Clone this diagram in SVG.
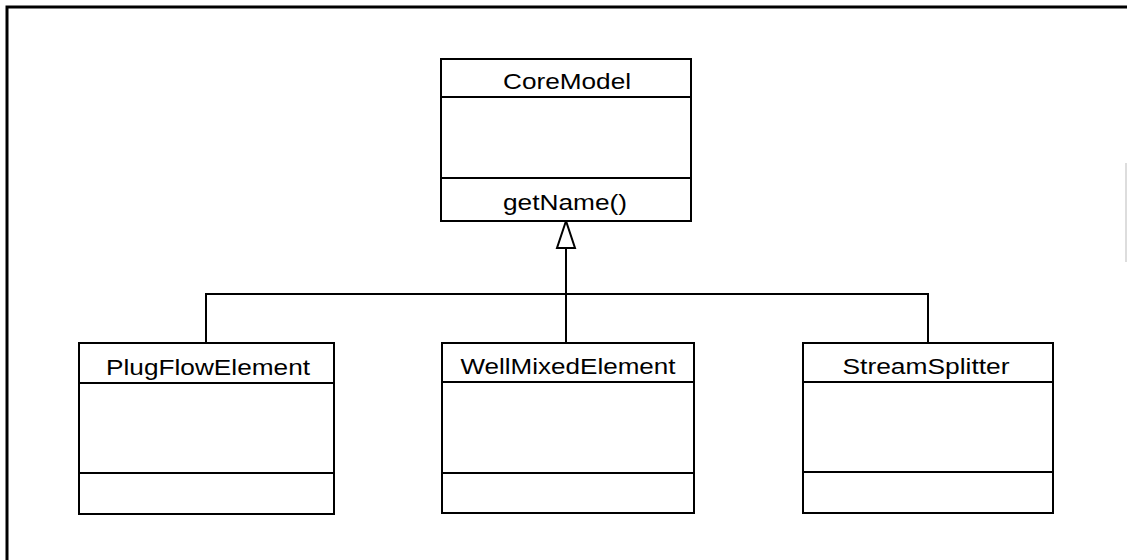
<svg xmlns="http://www.w3.org/2000/svg" width="1127" height="560" viewBox="0 0 1127 560">
<style>
.box{fill:#fff;stroke:#000;stroke-width:2}
.sep{stroke:#000;stroke-width:2}
.lbl{font-family:"Liberation Sans",Arial,sans-serif;font-size:22px;fill:#000;text-anchor:middle}
.con{fill:none;stroke:#000;stroke-width:2}
</style>
<rect width="1127" height="560" fill="#fff"/>
<path id="frame" d="M7,560 V7 H1127" fill="none" stroke="#000" stroke-width="3"/>
<line x1="1126" y1="163" x2="1126" y2="262" stroke="#bbb" stroke-width="1"/>
<g id="connectors">
<polyline class="con" points="206,343 206,294 928,294 928,343"/>
<line class="con" x1="566" y1="343" x2="566" y2="248"/>
<polygon points="566,221 557,248 575,248" fill="#fff" stroke="#000" stroke-width="2"/>
</g>
<g id="CoreModel">
<rect class="box" x="441" y="59" width="250" height="162"/>
<line class="sep" x1="441" y1="97" x2="691" y2="97"/>
<line class="sep" x1="441" y1="178" x2="691" y2="178"/>
<text class="lbl" x="567" y="89" textLength="128" lengthAdjust="spacingAndGlyphs">CoreModel</text>
<text class="lbl" x="565" y="210" textLength="124" lengthAdjust="spacingAndGlyphs">getName()</text>
</g>
<g id="PlugFlowElement">
<rect class="box" x="79" y="343" width="255" height="171"/>
<line class="sep" x1="79" y1="383" x2="334" y2="383"/>
<line class="sep" x1="79" y1="473" x2="334" y2="473"/>
<text class="lbl" x="208" y="375" textLength="204" lengthAdjust="spacingAndGlyphs">PlugFlowElement</text>
</g>
<g id="WellMixedElement">
<rect class="box" x="442" y="343" width="252" height="170"/>
<line class="sep" x1="442" y1="382" x2="694" y2="382"/>
<line class="sep" x1="442" y1="473" x2="694" y2="473"/>
<text class="lbl" x="568" y="374" textLength="215" lengthAdjust="spacingAndGlyphs">WellMixedElement</text>
</g>
<g id="StreamSplitter">
<rect class="box" x="803" y="343" width="250" height="170"/>
<line class="sep" x1="803" y1="382" x2="1053" y2="382"/>
<line class="sep" x1="803" y1="472" x2="1053" y2="472"/>
<text class="lbl" x="926" y="374" textLength="167" lengthAdjust="spacingAndGlyphs">StreamSplitter</text>
</g>
</svg>
